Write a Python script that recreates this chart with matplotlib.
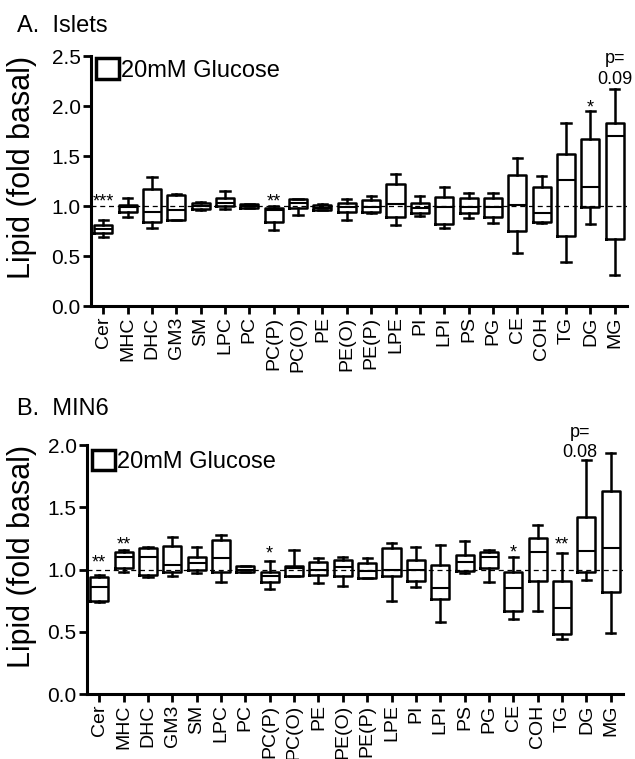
import matplotlib
matplotlib.use('Agg')
import matplotlib.pyplot as plt
from matplotlib.patches import Patch

plt.rcParams['font.family'] = ['Liberation Sans', 'DejaVu Sans']

# lipid classes (same for both panels)
lipids = ['Cer', 'MHC', 'DHC', 'GM3', 'SM', 'LPC', 'PC', 'PC(P)', 'PC(O)',
          'PE', 'PE(O)', 'PE(P)', 'LPE', 'PI', 'LPI', 'PS', 'PG', 'CE',
          'COH', 'TG', 'DG', 'MG']

# A. Islets - box stats (fold basal)
islet_lo = [0.69, 0.89, 0.78, 0.86, 0.96, 0.97, 0.98, 0.76, 0.91, 0.96,
            0.86, 0.93, 0.81, 0.90, 0.78, 0.88, 0.83, 0.53, 0.83, 0.44,
            0.82, 0.31]
islet_q1 = [0.73, 0.94, 0.84, 0.86, 0.97, 1.00, 0.98, 0.84, 0.98, 0.96,
            0.94, 0.94, 0.89, 0.93, 0.82, 0.93, 0.89, 0.75, 0.84, 0.70,
            0.99, 0.67]
islet_med = [0.77, 0.99, 0.94, 0.96, 1.00, 1.03, 1.00, 0.96, 1.03, 0.985,
             0.99, 0.99, 1.02, 0.98, 0.99, 0.99, 0.99, 1.01, 0.93, 1.26,
             1.19, 1.70]
islet_q3 = [0.81, 1.01, 1.17, 1.11, 1.03, 1.08, 1.02, 0.98, 1.07, 1.01,
            1.03, 1.06, 1.22, 1.03, 1.09, 1.08, 1.08, 1.31, 1.19, 1.52,
            1.67, 1.83]
islet_hi = [0.86, 1.08, 1.29, 1.12, 1.04, 1.15, 1.02, 1.00, 1.07, 1.02,
            1.07, 1.10, 1.32, 1.10, 1.19, 1.13, 1.13, 1.48, 1.30, 1.83,
            1.95, 2.17]

# B. MIN6
min6_lo = [0.74, 0.98, 0.94, 0.95, 0.97, 0.90, 0.98, 0.84, 0.95, 0.89,
           0.87, 0.93, 0.75, 0.86, 0.58, 0.97, 0.90, 0.60, 0.67, 0.44,
           0.92, 0.49]
min6_q1 = [0.75, 1.01, 0.96, 0.98, 1.00, 0.98, 0.98, 0.90, 0.95, 0.96,
           0.95, 0.93, 0.95, 0.91, 0.76, 0.99, 1.01, 0.67, 0.91, 0.48,
           0.98, 0.82]
min6_med = [0.86, 1.10, 1.10, 1.04, 1.05, 1.09, 1.00, 0.95, 1.01, 1.00,
            1.02, 0.99, 1.00, 1.00, 0.85, 1.06, 1.10, 0.85, 1.14, 0.69,
            1.15, 1.17]
min6_q3 = [0.94, 1.14, 1.17, 1.19, 1.10, 1.24, 1.03, 0.98, 1.03, 1.06,
           1.08, 1.05, 1.17, 1.08, 1.04, 1.12, 1.14, 0.98, 1.25, 0.91,
           1.42, 1.63]
min6_hi = [0.96, 1.16, 1.18, 1.26, 1.18, 1.28, 1.03, 1.07, 1.16, 1.09,
           1.10, 1.09, 1.21, 1.18, 1.20, 1.23, 1.16, 1.10, 1.36, 1.13,
           1.88, 1.94]

# significance marks: (index, text, baseline y)
islet_marks = [(0, '***', 1.00), (7, '**', 1.00), (20, '*', 1.94)]
min6_marks = [(0, '**', 1.02), (1, '**', 1.16), (7, '*', 1.09),
              (17, '*', 1.10), (19, '**', 1.16)]


def draw_panel(ax, lo, q1, med, q3, hi, ymax, yticks, leg_y):
    stats = []
    for i in range(len(lipids)):
        stats.append(dict(whislo=lo[i], q1=q1[i], med=med[i], q3=q3[i],
                          whishi=hi[i], fliers=[], label=lipids[i]))
    x = list(range(len(lipids)))
    ax.axhline(1.0, color='black', lw=0.9, ls=(0, (4, 3)), zorder=0)
    ax.bxp(stats, positions=x, widths=0.74, capwidths=0.38,
           showfliers=False,
           boxprops=dict(color='black', lw=1.8),
           whiskerprops=dict(color='black', lw=1.8),
           capprops=dict(color='black', lw=1.8),
           medianprops=dict(color='black', lw=1.5))
    ax.set_xlim(-0.5, len(lipids) - 0.5)
    ax.set_ylim(0, ymax)
    ax.set_yticks(yticks)
    ax.set_yticklabels(['%.1f' % t for t in yticks])
    ax.set_xticks(x)
    ax.set_xticklabels(lipids, rotation=90)
    for s in ['top', 'right']:
        ax.spines[s].set_visible(False)
    for s in ['left', 'bottom']:
        ax.spines[s].set_linewidth(2.2)
    ax.tick_params(axis='both', width=2, length=6, pad=1.5)
    ax.tick_params(axis='y', labelsize=15)
    ax.tick_params(axis='x', labelsize=14)
    ax.legend(handles=[Patch(facecolor='white', edgecolor='black', lw=2.5)],
              labels=['20mM Glucose'], loc='upper left',
              bbox_to_anchor=(0.0, leg_y), frameon=False, fontsize=17,
              handlelength=1.0, handleheight=0.95, handletextpad=0.05,
              borderpad=0.2, borderaxespad=0)


fig = plt.figure(figsize=(6.35, 7.59), dpi=100)

# panel A
ax1 = fig.add_axes([0.1433, 0.5968, 0.844, 0.3294])
draw_panel(ax1, islet_lo, islet_q1, islet_med, islet_q3, islet_hi,
           2.5, [0, 0.5, 1.0, 1.5, 2.0, 2.5], 1.01)
for i, txt, yb in islet_marks:
    ax1.text(i, yb, txt, ha='center', va='baseline', fontsize=13)
ax1.text(21, 2.48, 'p=', ha='center', va='center', fontsize=13,
         clip_on=False)
ax1.text(21, 2.27, '0.09', ha='center', va='center', fontsize=13,
         clip_on=False)

# panel B
ax2 = fig.add_axes([0.137, 0.0856, 0.844, 0.328])
draw_panel(ax2, min6_lo, min6_q1, min6_med, min6_q3, min6_hi,
           2.0, [0, 0.5, 1.0, 1.5, 2.0], 1.0)
for i, txt, yb in min6_marks:
    ax2.text(i, yb, txt, ha='center', va='baseline', fontsize=13)
ax2.text(19.75, 2.10, 'p=', ha='center', va='center', fontsize=13,
         clip_on=False)
ax2.text(19.75, 1.94, '0.08', ha='center', va='center', fontsize=13,
         clip_on=False)

fig.text(0.027, 0.958, 'A.  Islets', fontsize=17, va='baseline')
fig.text(0.027, 0.453, 'B.  MIN6', fontsize=17, va='baseline')
fig.text(0.035, 0.78, 'Lipid (fold basal)', rotation=90, fontsize=22,
         ha='center', va='center')
fig.text(0.035, 0.267, 'Lipid (fold basal)', rotation=90, fontsize=22,
         ha='center', va='center')

fig.savefig('out.png', dpi=100)
